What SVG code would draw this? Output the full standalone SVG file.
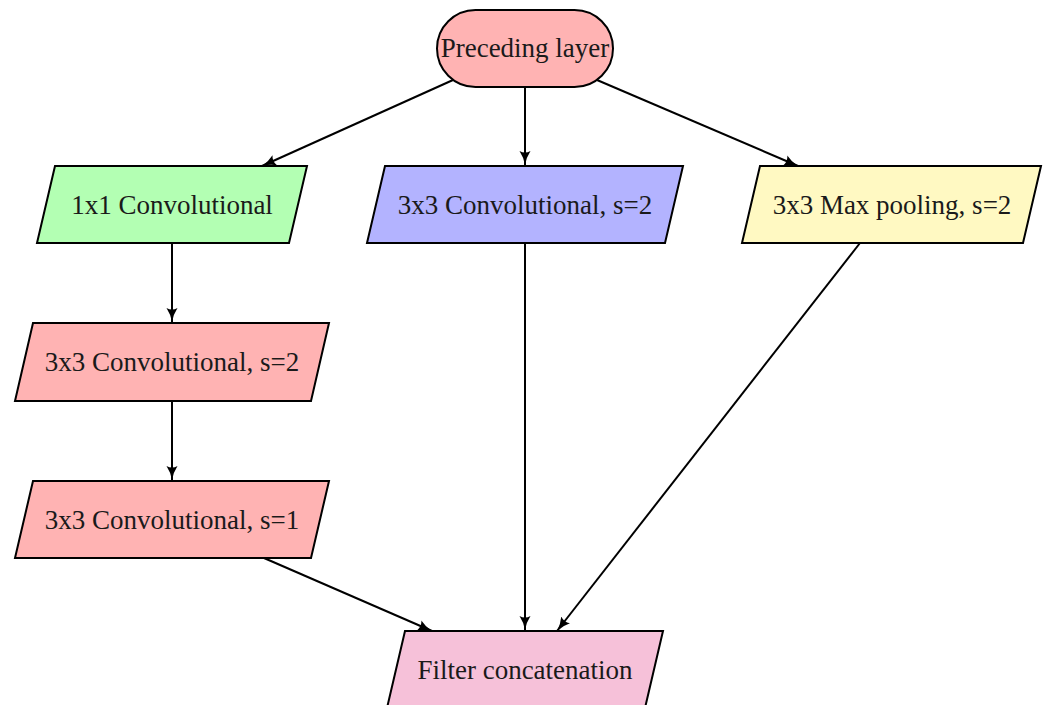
<svg xmlns="http://www.w3.org/2000/svg" width="1046" height="705" viewBox="0 0 1046 705">
<style>
.n{stroke:#000;stroke-width:2;stroke-linejoin:miter}
.t{font-family:"Liberation Serif","DejaVu Serif",serif;font-size:27px;fill:#1a1a1a;text-anchor:middle}
.e{stroke:#000;stroke-width:2;fill:none;marker-end:url(#ah)}
</style>
<defs>
<marker id="ah" markerUnits="userSpaceOnUse" markerWidth="16" markerHeight="14" viewBox="0 0 16 14" refX="14" refY="7" orient="auto">
<path d="M0,1.5 Q6,5.5 14,7 Q6,8.5 0,12.5 Q3,7 0,1.5Z" fill="#000"/>
</marker>
</defs>
<rect width="1046" height="705" fill="#fff"/>
<g id="edges">
<line class="e" x1="453" y1="80" x2="262" y2="166"/>
<line class="e" x1="525" y1="87" x2="525" y2="165"/>
<line class="e" x1="597" y1="80" x2="798" y2="166"/>
<line class="e" x1="172" y1="243" x2="172" y2="322"/>
<line class="e" x1="172" y1="401" x2="172" y2="480"/>
<line class="e" x1="264" y1="558" x2="432" y2="631"/>
<line class="e" x1="525" y1="243" x2="525" y2="630"/>
<line class="e" x1="860" y1="243" x2="557" y2="631"/>
</g>
<g id="preceding">
<rect class="n" x="437" y="10" width="176" height="77" rx="38.5" ry="38.5" fill="#ffb3b3"/>
<text class="t" x="525" y="57">Preceding layer</text>
</g>
<g id="conv1x1">
<polygon class="n" points="55,166 307,166 289,243 37,243" fill="#b3ffb3"/>
<text class="t" x="172" y="214">1x1 Convolutional</text>
</g>
<g id="conv3x3a">
<polygon class="n" points="385,166 683,166 665,243 367,243" fill="#b3b3ff"/>
<text class="t" x="525" y="214">3x3 Convolutional, s=2</text>
</g>
<g id="maxpool">
<polygon class="n" points="760,166 1041,166 1023,243 742,243" fill="#fff9c2"/>
<text class="t" x="892" y="214">3x3 Max pooling, s=2</text>
</g>
<g id="conv3x3b">
<polygon class="n" points="33,323 329,323 311,401 15,401" fill="#ffb3b3"/>
<text class="t" x="172" y="371">3x3 Convolutional, s=2</text>
</g>
<g id="conv3x3c">
<polygon class="n" points="33,481 329,481 311,558 15,558" fill="#ffb3b3"/>
<text class="t" x="172" y="529">3x3 Convolutional, s=1</text>
</g>
<g id="concat">
<polygon class="n" points="405,631 663,631 645,708 387,708" fill="#f6c1d9"/>
<text class="t" x="525" y="679">Filter concatenation</text>
</g>
</svg>
